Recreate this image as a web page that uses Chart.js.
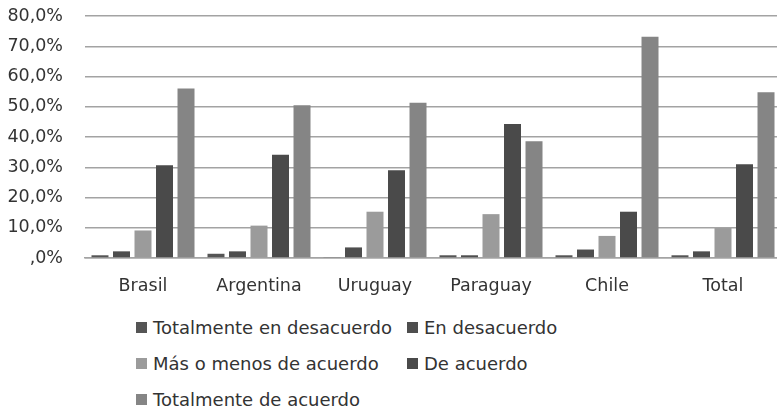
<!DOCTYPE html>
<html lang="es">
<head>
<meta charset="utf-8">
<title>Grado de acuerdo por país</title>
<script src="https://cdn.jsdelivr.net/npm/chart.js@4/dist/chart.umd.min.js"></script>
<style>
  html, body { margin: 0; padding: 0; background: #fff; overflow: hidden; }
  #wrap { position: relative; width: 777px; height: 408px; overflow: hidden; }
  #chart { position: absolute; left: 0; top: 0; }
  #legend {
    position: absolute; left: 136px; top: 309px;
    display: grid; grid-template-columns: 271px auto; row-gap: 0;
    font-family: "DejaVu Sans", sans-serif; font-size: 18px; color: #333;
  }
  .item { display: flex; align-items: center; height: 36px; white-space: nowrap; }
  .box { width: 11px; height: 11px; margin-right: 6px; flex: none; }
</style>
</head>
<body>
<div id="wrap">
  <canvas id="chart" width="781" height="300"></canvas>
  <div id="legend"></div>
</div>
<script>
// Countries on the x axis
const categories = ['Brasil', 'Argentina', 'Uruguay', 'Paraguay', 'Chile', 'Total'];

// Response shares (%) per country
const totalmenteEnDesacuerdo = [0.9, 1.4, 0.3, 0.9, 0.9, 0.9];
const enDesacuerdo           = [2.2, 2.2, 3.5, 0.9, 2.8, 2.2];
const masOMenosDeAcuerdo     = [9.1, 10.7, 15.3, 14.5, 7.3, 9.9];
const deAcuerdo              = [30.7, 34.1, 29.0, 44.3, 15.3, 31.0];
const totalmenteDeAcuerdo    = [56.0, 50.5, 51.3, 38.6, 73.1, 54.8];

const seriesLabels = [
  'Totalmente en desacuerdo',
  'En desacuerdo',
  'Más o menos de acuerdo',
  'De acuerdo',
  'Totalmente de acuerdo'
];
const seriesValues = [totalmenteEnDesacuerdo, enDesacuerdo, masOMenosDeAcuerdo, deAcuerdo, totalmenteDeAcuerdo];
const seriesColors = ['#555555', '#4e4e4e', '#9b9b9b', '#4a4a4a', '#858585'];

// Y axis: 0 to 80 % in steps of 10
const yMax = 80;
const yStep = 10;

function pctLabel(v) {
  if (v === 0) return ',0%';
  return v.toFixed(1).replace('.', ',') + '%';
}

const FONT = '"DejaVu Sans", sans-serif';

const chart = new Chart(document.getElementById('chart'), {
  type: 'bar',
  data: {
    labels: categories,
    datasets: seriesLabels.map((label, i) => ({
      label,
      data: seriesValues[i],
      backgroundColor: seriesColors[i],
      borderWidth: 0,
      categoryPercentage: 0.927,
      barPercentage: 0.79
    }))
  },
  options: {
    responsive: false,
    animation: false,
    layout: { padding: { top: 16, left: 0, right: 0, bottom: 0 } },
    plugins: {
      legend: { display: false },
      tooltip: { enabled: false }
    },
    scales: {
      x: {
        grid: { display: false, drawTicks: false },
        border: { display: true, color: '#a3a3a3', width: 1.5 },
        ticks: {
          color: '#333',
          font: { family: FONT, size: 17.5 },
          padding: 18,
          maxRotation: 0
        },
        afterFit(scale) { scale.height = 42; }
      },
      y: {
        min: 0,
        max: yMax,
        grid: { color: '#a3a3a3', lineWidth: 1.5, drawTicks: false },
        border: { display: false },
        ticks: {
          stepSize: yStep,
          color: '#333',
          font: { family: FONT, size: 17.5 },
          padding: 22,
          callback: (v) => pctLabel(v)
        },
        afterFit(scale) {
          // fixed axis width; labels may overhang the plot top/bottom
          scale.width = 85;
          scale.paddingTop = 0;
          scale.paddingBottom = 0;
        }
      }
    }
  }
});

// Legend laid out in two columns below the plot
const legendEl = document.getElementById('legend');
chart.data.datasets.forEach((ds) => {
  const item = document.createElement('div');
  item.className = 'item';
  const box = document.createElement('span');
  box.className = 'box';
  box.style.background = ds.backgroundColor;
  const text = document.createElement('span');
  text.textContent = ds.label;
  item.appendChild(box);
  item.appendChild(text);
  legendEl.appendChild(item);
});
</script>
</body>
</html>
